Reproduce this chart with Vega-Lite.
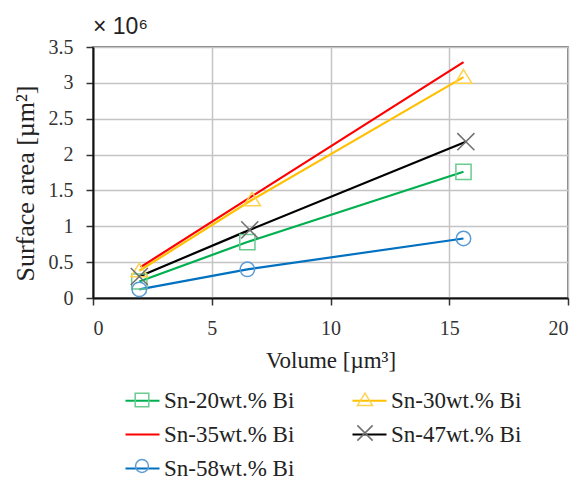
{
  "$schema": "https://vega.github.io/schema/vega-lite/v6.json",
  "width": 475,
  "height": 251,
  "autosize": {"type": "none"},
  "padding": {"left": 93, "top": 47, "right": 14, "bottom": 182},
  "title": {"text": "× 10⁶", "anchor": "start", "frame": "group", "font": "Liberation Sans", "fontSize": 23, "fontWeight": "normal", "color": "#222", "offset": -2},
  "config": {
    "font": "Liberation Serif",
    "view": {"stroke": "#555", "strokeWidth": 1.5},
    "axis": {
      "labelFont": "Liberation Serif", "labelFontSize": 20, "labelColor": "#333",
      "titleFont": "Liberation Serif", "titleFontSize": 23, "titleFontWeight": "normal", "titleColor": "#222",
      "gridColor": "#c4c4c4", "gridWidth": 1.5, "gridOpacity": 1,
      "domainColor": "#111", "domainWidth": 2,
      "tickColor": "#333", "tickSize": 7, "tickWidth": 1.5
    },
    "legend": {"symbolOpacity": 1}
  },
  "data": {"values": [
    {"series": "Sn-20wt.% Bi", "volume": 1.95, "area": 0.23},
    {"series": "Sn-20wt.% Bi", "volume": 6.5, "area": 0.78},
    {"series": "Sn-20wt.% Bi", "volume": 15.6, "area": 1.76},
    {"series": "Sn-30wt.% Bi", "volume": 1.95, "area": 0.38},
    {"series": "Sn-30wt.% Bi", "volume": 6.7, "area": 1.37},
    {"series": "Sn-30wt.% Bi", "volume": 15.6, "area": 3.08},
    {"series": "Sn-35wt.% Bi", "volume": 2.0, "area": 0.43},
    {"series": "Sn-35wt.% Bi", "volume": 6.7, "area": 1.42},
    {"series": "Sn-35wt.% Bi", "volume": 15.6, "area": 3.29},
    {"series": "Sn-47wt.% Bi", "volume": 1.95, "area": 0.3},
    {"series": "Sn-47wt.% Bi", "volume": 6.6, "area": 0.95},
    {"series": "Sn-47wt.% Bi", "volume": 15.7, "area": 2.18},
    {"series": "Sn-58wt.% Bi", "volume": 1.95, "area": 0.12},
    {"series": "Sn-58wt.% Bi", "volume": 6.5, "area": 0.4},
    {"series": "Sn-58wt.% Bi", "volume": 15.6, "area": 0.83}
  ]},
  "encoding": {
    "x": {"field": "volume", "type": "quantitative", "scale": {"domain": [0, 20], "nice": false}, "axis": {"values": [0, 5, 10, 15, 20], "title": "Volume [µm³]", "labelPadding": 13, "titlePadding": 11}},
    "y": {"field": "area", "type": "quantitative", "scale": {"domain": [0, 3.5], "nice": false}, "axis": {"values": [0, 0.5, 1, 1.5, 2, 2.5, 3, 3.5], "format": "~g", "title": "Surface area [µm²]", "titleFontSize": 26, "titleY": 136, "labelPadding": 13, "titlePadding": 10}}
  },
  "layer": [
    {
      "mark": {"type": "line", "strokeWidth": 2.2},
      "encoding": {
        "stroke": {"field": "series", "type": "nominal",
          "scale": {"range": ["#00B050", "#FFC000", "#FF0000", "#000000", "#0070C0"]},
          "legend": {"title": null, "orient": "none", "legendX": 31, "legendY": 335, "columns": 2, "direction": "horizontal",
            "symbolType": "M-1,0H1", "symbolSize": 1156, "symbolStrokeWidth": 2.2,
            "labelFont": "Liberation Serif", "labelFontSize": 23, "labelColor": "#222", "labelOffset": 3, "labelLimit": 300,
            "columnPadding": 53, "rowPadding": 3}}
      }
    },
    {
      "mark": {"type": "point", "filled": false, "size": 1444, "strokeWidth": 1.5, "opacity": 1},
      "encoding": {
        "color": {"field": "series", "type": "nominal",
          "scale": {"domain": ["Sn-20wt.% Bi", "Sn-30wt.% Bi", "Sn-35wt.% Bi", "Sn-47wt.% Bi", "Sn-58wt.% Bi"], "range": ["#6CCB8F", "#FFD24D", "#FF0000", "#707070", "#5B9BD5"]},
          "legend": {"title": null, "orient": "none", "legendX": 31, "legendY": 335, "columns": 2, "direction": "horizontal",
            "symbolSize": 1156, "symbolStrokeWidth": 1.5,
            "labelFont": "Liberation Serif", "labelFontSize": 23, "labelOpacity": 0, "labelOffset": 3, "labelLimit": 300,
            "columnPadding": 53, "rowPadding": 3}},
        "shape": {"field": "series", "type": "nominal",
          "scale": {"domain": ["Sn-20wt.% Bi", "Sn-30wt.% Bi", "Sn-35wt.% Bi", "Sn-47wt.% Bi", "Sn-58wt.% Bi"],
            "range": [
              "M-0.4,-0.4H0.4V0.4H-0.4Z",
              "M0,-0.4L0.44,0.32L-0.44,0.32Z",
              "M0,0",
              "M-0.45,-0.45L0.45,0.45M-0.45,0.45L0.45,-0.45",
              "M-0.38,0A0.38,0.38 0 1,0 0.38,0A0.38,0.38 0 1,0 -0.38,0"
            ]},
          "legend": {"title": null, "orient": "none", "legendX": 31, "legendY": 335, "columns": 2, "direction": "horizontal",
            "symbolSize": 1156, "symbolStrokeWidth": 1.5,
            "labelFont": "Liberation Serif", "labelFontSize": 23, "labelOpacity": 0, "labelOffset": 3, "labelLimit": 300,
            "columnPadding": 53, "rowPadding": 3}}
      }
    }
  ]
}
